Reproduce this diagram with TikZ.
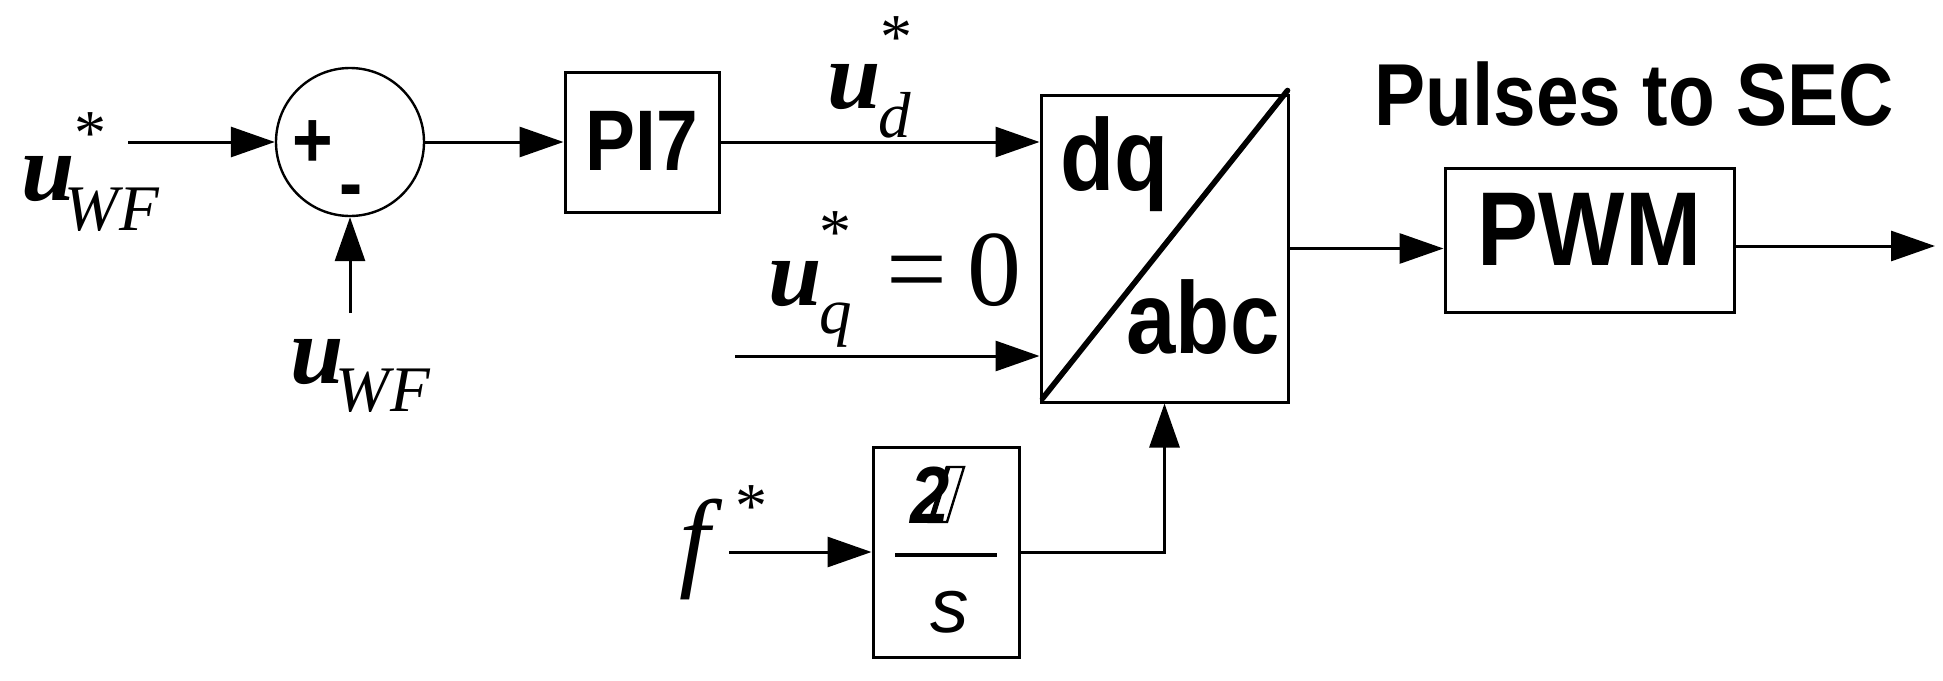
\documentclass[tikz,border=0pt]{standalone}
\usepackage{fontspec}
\usepackage{graphicx}
\setmainfont{Liberation Serif}
\newfontfamily\arial{Liberation Sans}
\usetikzlibrary{arrows.meta,calc}

\newcommand\sfb[2]{\scalebox{0.87}[1]{\fontsize{#1}{#1}\selectfont\arial\bfseries #2}}
\newcommand\ubig{{\fontsize{48}{48}\selectfont\bfseries\itshape u}}
\newcommand\starf{\fontsize{32}{32}\selectfont}
\newcommand\subf{\fontsize{32.5}{32.5}\selectfont\itshape}
% #1 sub, #2 kern after u, #3 sub drop, #4 star kern, #5 star raise
\newcommand\uvar[5]{\ubig\kern#2\rlap{\kern#4\raisebox{#5}{\starf *}}\raisebox{-#3}{\subf #1}}
\newcommand\usub[3]{\ubig\kern#2\raisebox{-#3}{\subf #1}}

\begin{document}
\begin{tikzpicture}[x=0.5pt,y=-0.5pt,line width=1.5pt,
  >={Triangle[length=22pt,width=15pt]},
  blk/.style={draw,line width=1.5pt,inner sep=0pt},
  lbl/.style={inner sep=0pt,anchor=base west}]
\useasboundingbox (0,0) rectangle (1943,680);

% blocks
\node[draw,circle,line width=1.2pt,minimum size=74pt,inner sep=0pt] (sum) at (350,142) {};
\node[lbl,anchor=base] (plus) at (313,167) {\sfb{40}{+}};
\node[lbl,anchor=base] (minus) at (351,210) {\sfb{40}{-}};

\node[blk,minimum width=77pt,minimum height=70pt,text depth=1pt] (pi) at (642,142) {\sfb{43}{PI7}};

\node[blk,minimum width=123.5pt,minimum height=153.5pt] (dqbox) at (1164.5,248.5) {};
\draw[line width=2.8pt,line cap=round] ($(dqbox.south west)+(3,-5)$) -- ($(dqbox.north east)+(-2,-3)$);
\node[lbl] (dq) at (1059,190) {\sfb{51}{dq}};
\node[lbl] (abc) at (1125,353) {\sfb{51}{abc}};

\node[blk,minimum width=144.5pt,minimum height=72pt,text depth=10.5pt] (pwm) at (1589.5,240) {\sfb{52.5}{PWM}};
\node[lbl,anchor=base] (pulses) at (1634,125) {\sfb{44}{Pulses to SEC}};

\node[blk,minimum width=73pt,minimum height=105pt] (integ) at (946,552) {};
\draw[line width=2pt] (895,555) -- (997,555);
\node[lbl] (two) at (909,523) {\scalebox{0.87}[1]{\fontsize{40.5}{40.5}\selectfont\arial\bfseries\itshape 2}};
\draw[line width=1.2pt] (929,522) -- (947,522) -- (964,467) -- (947,467) -- cycle;
\draw[line width=2.4pt] (931,522) -- (948,467);
\node[inner sep=0pt] (s) at (950,612) {\fontsize{38.5}{38.5}\selectfont\arial\itshape s};

% labels
\node[lbl] (uwfs) at (20,200) {\uvar{WF}{-5pt}{15pt}{5pt}{23pt}};
\node[lbl] (uwf) at (289,383) {\usub{WF}{-4pt}{14pt}};
\node[lbl] (uds) at (826,108) {\uvar{d}{-1pt}{14.5pt}{1pt}{24.6pt}};
\node[lbl] (uqs) at (767,305) {\uvar{q}{-1pt}{14pt}{0pt}{25.6pt}\kern17pt{\fontsize{54}{54}\selectfont =\kern10pt 0}};
\node[lbl] (fs) at (678,576) {{\fontsize{55}{55}\selectfont\itshape f}\kern12.5pt\raisebox{24.5pt}{\starf *}};

% connectors
\coordinate (a1) at (128,142);
\coordinate (a2) at (350,313);
\coordinate (uq) at (735,356);
\coordinate (fin) at (729,552);
\coordinate (out) at (1935,246);
\draw[->] (a1) -- (sum.west);
\draw[->] (a2) -- (sum.south);
\draw[->] (sum.east) -- (sum.east -| pi.west);
\draw[->] (pi.east) -- (pi.east -| dqbox.west);
\draw[->] (uq) -- (uq -| dqbox.west);
\draw[->] (dqbox.east) -- (dqbox.east -| pwm.west);
\draw[->] (pwm.east |- out) -- (out);
\draw[->] (fin) -- (integ.west);
\draw[->] (integ.east) -| (dqbox.south);
\end{tikzpicture}
\end{document}
